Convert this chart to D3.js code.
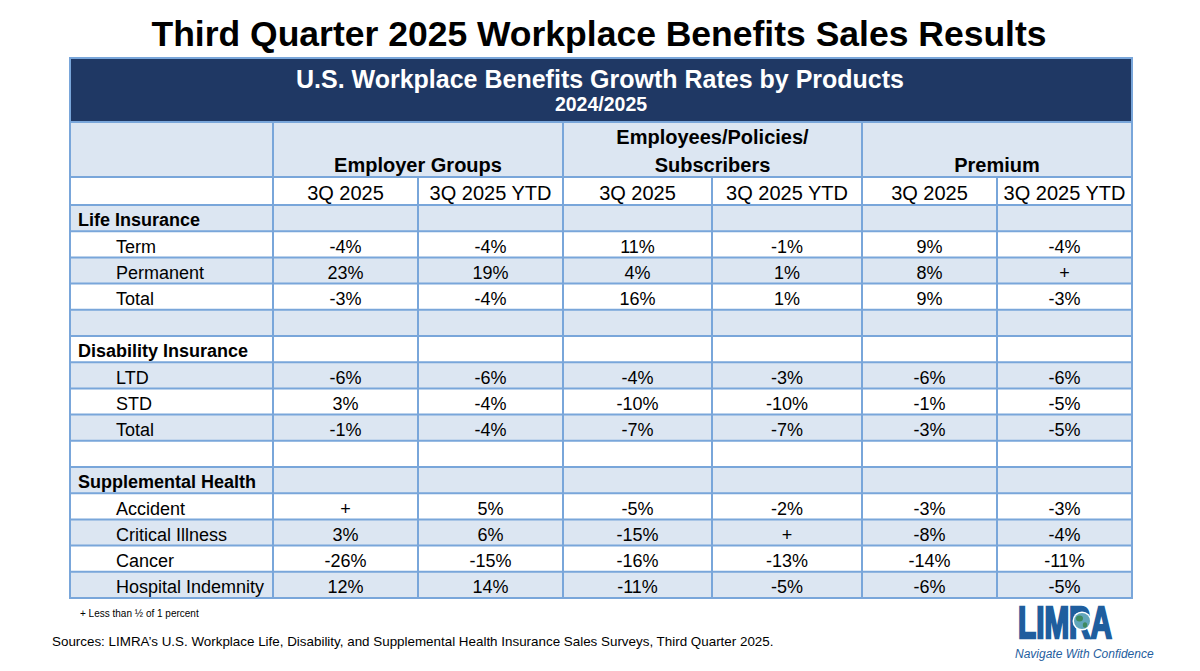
<!DOCTYPE html>
<html><head><meta charset="utf-8">
<script src="https://cdn.jsdelivr.net/npm/d3@7"></script>
<style>body{margin:0;background:#fff} svg{display:block} text{font-family:"Liberation Sans",Arial,Helvetica,sans-serif}</style>
</head><body><svg id="c" width="1200" height="671"></svg>
<script>
// ---------- data ----------
const chartTitle = "Third Quarter 2025 Workplace Benefits Sales Results";
const tableTitle = "U.S. Workplace Benefits Growth Rates by Products";
const tableSubtitle = "2024/2025";
const groupLabels = [["Employer Groups"], ["Employees/Policies/", "Subscribers"], ["Premium"]];
const subColumns = ["3Q 2025", "3Q 2025 YTD", "3Q 2025", "3Q 2025 YTD", "3Q 2025", "3Q 2025 YTD"];
const rowLabels = ["Life Insurance", "Term", "Permanent", "Total", "", "Disability Insurance", "LTD", "STD", "Total", "", "Supplemental Health", "Accident", "Critical Illness", "Cancer", "Hospital Indemnity"];
const rowKinds  = ["section", "item", "item", "item", "blank", "section", "item", "item", "item", "blank", "section", "item", "item", "item", "item"];
const employerQ      = ["", "-4%", "23%", "-3%", "", "", "-6%", "3%", "-1%", "", "", "+", "3%", "-26%", "12%"];
const employerYTD    = ["", "-4%", "19%", "-4%", "", "", "-6%", "-4%", "-4%", "", "", "5%", "6%", "-15%", "14%"];
const employeesQ     = ["", "11%", "4%", "16%", "", "", "-4%", "-10%", "-7%", "", "", "-5%", "-15%", "-16%", "-11%"];
const employeesYTD   = ["", "-1%", "1%", "1%", "", "", "-3%", "-10%", "-7%", "", "", "-2%", "+", "-13%", "-5%"];
const premiumQ       = ["", "9%", "8%", "9%", "", "", "-6%", "-1%", "-3%", "", "", "-3%", "-8%", "-14%", "-6%"];
const premiumYTD     = ["", "-4%", "+", "-3%", "", "", "-6%", "-5%", "-5%", "", "", "-3%", "-4%", "-11%", "-5%"];
const footnote = "+ Less than \u00BD of 1 percent";
const sourceNote = "Sources: LIMRA\u2019s U.S. Workplace Life, Disability, and Supplemental Health Insurance Sales Surveys, Third Quarter 2025.";
const logoText = "LIMRA";
const logoTagline = "Navigate With Confidence";

// ---------- layout ----------
const series = [employerQ, employerYTD, employeesQ, employeesYTD, premiumQ, premiumYTD];
const NAVY = "#1f3864", LIGHT = "#dce6f2", LINE = "#79a6da", LOGO = "#1f5e9e";
const svg = d3.select("#c");
const colWidths = [203, 145, 145, 149, 150, 135, 135];
const edges = [70, ...Array.from(d3.cumsum(colWidths), v => 70 + v)];
const tableL = edges[0], tableR = edges[edges.length - 1];
const yTop = 59, yHead2 = 122, ySub = 177, yBody = 205, yBottom = 598;
const y = d3.scaleBand().domain(d3.range(rowLabels.length)).range([yBody, yBottom]);
const colCenter = i => (edges[i + 1] + edges[i + 2]) / 2;
const base = i => y(i) + y.bandwidth() / 2 + 8.3;

// title
svg.append("text").attr("x", 599).attr("y", 46).attr("text-anchor", "middle")
  .attr("font-size", 35.5).attr("font-weight", "bold").attr("fill", "#000").text(chartTitle);

// navy header
svg.append("rect").attr("x", tableL).attr("y", yTop).attr("width", tableR - tableL).attr("height", yHead2 - yTop).attr("fill", NAVY);
svg.append("text").attr("x", 600).attr("y", 88).attr("text-anchor", "middle").attr("font-size", 25)
  .attr("font-weight", "bold").attr("fill", "#fff").text(tableTitle);
svg.append("text").attr("x", 601).attr("y", 111).attr("text-anchor", "middle").attr("font-size", 19.5)
  .attr("font-weight", "bold").attr("fill", "#fff").text(tableSubtitle);

// group header row
svg.append("rect").attr("x", tableL).attr("y", yHead2).attr("width", tableR - tableL).attr("height", ySub - yHead2).attr("fill", LIGHT);
svg.append("rect").attr("x", tableL).attr("y", ySub).attr("width", tableR - tableL).attr("height", yBody - ySub).attr("fill", "#fff");
groupLabels.forEach((lines, g) => {
  const cx = (edges[1 + g * 2] + edges[3 + g * 2]) / 2;
  const t = svg.append("text").attr("text-anchor", "middle").attr("font-size", 20).attr("font-weight", "bold").attr("fill", "#000");
  lines.forEach((ln, k) => {
    t.append("tspan").attr("x", cx).attr("y", 172 - (lines.length - 1 - k) * 28).text(ln);
  });
});
subColumns.forEach((s, i) => {
  svg.append("text").attr("x", colCenter(i)).attr("y", 200).attr("text-anchor", "middle")
    .attr("font-size", 20).attr("fill", "#000").text(s);
});

// body rows
const rows = svg.append("g").selectAll("g").data(rowLabels).join("g");
rows.append("rect").attr("x", tableL).attr("y", (d, i) => y(i)).attr("width", tableR - tableL)
  .attr("height", y.bandwidth()).attr("fill", (d, i) => i % 2 === 0 ? LIGHT : "#fff");
rows.append("text")
  .attr("x", (d, i) => rowKinds[i] === "section" ? 78 : 116)
  .attr("y", (d, i) => base(i))
  .attr("font-size", 18).attr("font-weight", (d, i) => rowKinds[i] === "section" ? "bold" : "normal")
  .attr("fill", "#000").text(d => d);
series.forEach((arr, c) => {
  svg.append("g").selectAll("text").data(arr).join("text")
    .attr("x", colCenter(c)).attr("y", (d, i) => base(i))
    .attr("text-anchor", "middle").attr("font-size", 18).attr("fill", "#000").text(d => d);
});

// grid lines
const grid = svg.append("g").attr("stroke", LINE).attr("stroke-width", 2).attr("fill", "none");
const hLines = [yHead2, ySub, ...d3.range(rowLabels.length).map(i => y(i))];
hLines.forEach(h => grid.append("line").attr("x1", tableL).attr("x2", tableR).attr("y1", h).attr("y2", h));
edges.forEach((x, i) => {
  grid.append("line").attr("x1", x).attr("x2", x).attr("y1", ySub).attr("y2", yBottom);
});
[edges[1], edges[3], edges[5]].forEach(x => grid.append("line").attr("x1", x).attr("x2", x).attr("y1", yHead2).attr("y2", ySub));
grid.append("rect").attr("x", tableL).attr("y", yTop - 1).attr("width", tableR - tableL).attr("height", yBottom - yTop + 1);

// footnotes
svg.append("text").attr("x", 80).attr("y", 617).attr("font-size", 10).attr("fill", "#000").text(footnote);
svg.append("text").attr("x", 52).attr("y", 646).attr("font-size", 13.4).attr("fill", "#000").text(sourceNote);

// logo
svg.append("text").attr("x", 1018).attr("y", 638).attr("font-family", "DejaVu Sans").attr("font-size", 44)
  .attr("font-weight", "bold").attr("fill", LOGO).attr("stroke", LOGO).attr("stroke-width", 2.4)
  .attr("textLength", 94).attr("lengthAdjust", "spacingAndGlyphs").text(logoText);
const globe = svg.append("g");
globe.append("circle").attr("cx", 1082).attr("cy", 621).attr("r", 9.5).attr("fill", "#fff");
globe.append("circle").attr("cx", 1082).attr("cy", 621).attr("r", 8).attr("fill", "#62a6bb");
globe.append("ellipse").attr("cx", 1079.5).attr("cy", 618.5).attr("rx", 3.5).attr("ry", 3).attr("fill", "#3f8a5f");
globe.append("ellipse").attr("cx", 1085).attr("cy", 625).attr("rx", 2.2).attr("ry", 2.8).attr("fill", "#3f8a5f");
svg.append("text").attr("x", 1015).attr("y", 658).attr("font-size", 12).attr("font-style", "italic")
  .attr("fill", LOGO).text(logoTagline);
</script></body></html>
